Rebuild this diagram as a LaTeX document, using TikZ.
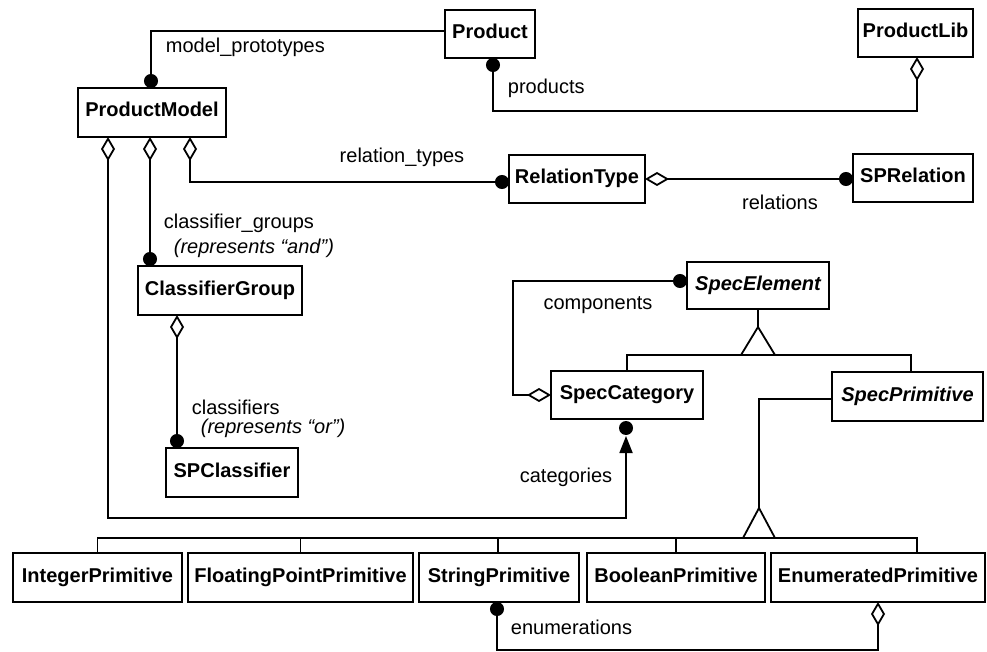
\documentclass[tikz,border=0pt]{standalone}
\usepackage{fontspec}
\setmainfont{Liberation Sans}
\usetikzlibrary{arrows.meta,calc}
\begin{document}
\begin{tikzpicture}[x=1pt,y=-1pt,
  line width=1.8pt,
  txt/.style={font=\fontsize{20}{24}\selectfont},
  box/.style={draw, rectangle, inner sep=0pt, outer sep=0pt,
    font=\fontsize{20}{24}\selectfont\bfseries, text height=14pt, text depth=5pt},
  abox/.style={box, font=\fontsize{20}{24}\selectfont\bfseries\itshape},
  lbl/.style={inner sep=0pt, txt},
  ilbl/.style={inner sep=0pt, font=\fontsize{20}{24}\selectfont\itshape},
  dot/.tip={Circle[length=14pt]},
  agg/.tip={Diamond[open,length=24pt,width=14pt]},
  up/.tip={Triangle[length=17pt,width=13pt]},
  gen/.style={line join=miter}
]
\fill[white] (0,0) rectangle (987,652);
\useasboundingbox (0,0) rectangle (987,652);

% classes
\node[box, minimum width=90pt,  minimum height=48pt] (prod) at (490,34)    {Product};
\node[box, minimum width=115pt, minimum height=48pt] (plib) at (915.5,33)  {ProductLib};
\node[box, minimum width=148pt, minimum height=49pt] (pm)   at (152,112.5) {ProductModel};
\node[box, minimum width=136pt, minimum height=48pt] (rt)   at (577,179)   {RelationType};
\node[box, minimum width=120pt, minimum height=48pt] (spr)  at (913,178)   {SPRelation};
\node[box, minimum width=164pt, minimum height=49pt] (cg)   at (220,290.5) {ClassifierGroup};
\node[box, minimum width=132pt, minimum height=49pt] (spc)  at (232,472.5) {SPClassifier};
\node[abox,minimum width=142pt, minimum height=47pt] (se)   at (758,285.5) {SpecElement};
\node[box, minimum width=152pt, minimum height=48pt] (sc)   at (627,395)   {SpecCategory};
\node[abox,minimum width=151pt, minimum height=49pt] (sp)   at (907.5,396.5) {SpecPrimitive};
\node[box, minimum width=169pt, minimum height=49pt] (ip)   at (97.5,577.5)  {IntegerPrimitive};
\node[box, minimum width=225pt, minimum height=49pt] (fp)   at (300.5,577.5) {FloatingPointPrimitive};
\node[box, minimum width=160pt, minimum height=49pt] (strp) at (499,577.5)   {StringPrimitive};
\node[box, minimum width=178pt, minimum height=49pt] (bp)   at (676,577.5)   {BooleanPrimitive};
\node[box, minimum width=214pt, minimum height=49pt] (ep)   at (878,577.5)   {EnumeratedPrimitive};

% associations
\draw[-dot] ($(prod.west)+(0,-3)$) -| ($(pm.north west)+(73,0)$);
\draw[dot-agg] ($(prod.south)+(3,0)$) -- ($(prod.south)+(3,53)$) -| ($(plib.south)+(1.5,0)$);
\draw[agg-dot] ($(pm.south east)+(-36,0)$) |- ($(rt.west)+(0,3)$);
\draw[agg-dot] ($(pm.south west)+(72,0)$) -- ($(cg.north west)+(12,0)$);
\draw[agg-up] ($(pm.south west)+(30,0)$) |- ($(sc.south)+(-1,99)$) -- ($(sc.south)+(-1,17)$);
\fill ($(sc.south)+(-1,9)$) circle[radius=7pt];
\draw[agg-dot] ($(cg.south west)+(39,0)$) -- ($(spc.north west)+(11,0)$);
\draw[agg-dot] (rt.east) -- (rt.east -| spr.west);
\draw[dot-agg] ($(se.west)+(0,-4.5)$) -- ++(-174,0) |- (sc.west);
\draw[dot-agg] ($(strp.south)+(-2,0)$) -- ++(0,48) -| (ep.south);

% generalisation: SpecElement
\draw (se.south) -- ++(0,18) coordinate (t1);
\draw[gen] (t1) -- ++(-17,28) -- ++(34,0) -- cycle;
\draw (sc.north) -- ++(0,-16) -| ($(sp.north)+(3.5,0)$);

% generalisation: SpecPrimitive
\draw ($(sp.west)+(0,2.5)$) -| ($(bp.north)+(83,-45)$) coordinate (t2);
\draw[gen] (t2) -- ++(-16,30) -- ++(32,0) -- cycle;
\draw (ip.north) |- ($(ep.north)+(39,-15)$) -- ($(ep.north)+(39,0)$);
\draw (fp.north) -- ++(0,-15);
\draw ($(strp.north)+(-1,0)$) -- ++(0,-15);
\draw (bp.north) -- ++(0,-15);

% role names
\node[lbl, anchor=west] (lmp)  at (165,47)  {model\_prototypes};
\node[lbl, anchor=west] (lpr)  at (507,88)  {products};
\node[lbl]              (lrt)  at (402,157) {relation\_types};
\node[lbl]              (lrel) at (780,202) {relations};
\node[lbl, anchor=west] (lcg)  at (163,223) {classifier\_groups};
\node[ilbl, anchor=west] (lcga) at (173,248) {(represents “and”)};
\node[lbl, anchor=west] (lcl)  at (191,407) {classifiers};
\node[ilbl, anchor=west] (lclo) at (200,428) {(represents “or”)};
\node[lbl]              (lcomp) at (598,305) {components};
\node[lbl]              (lcat) at (566,477) {categories};
\node[lbl, anchor=west] (lenum) at (510,627) {enumerations};
\end{tikzpicture}
\end{document}
